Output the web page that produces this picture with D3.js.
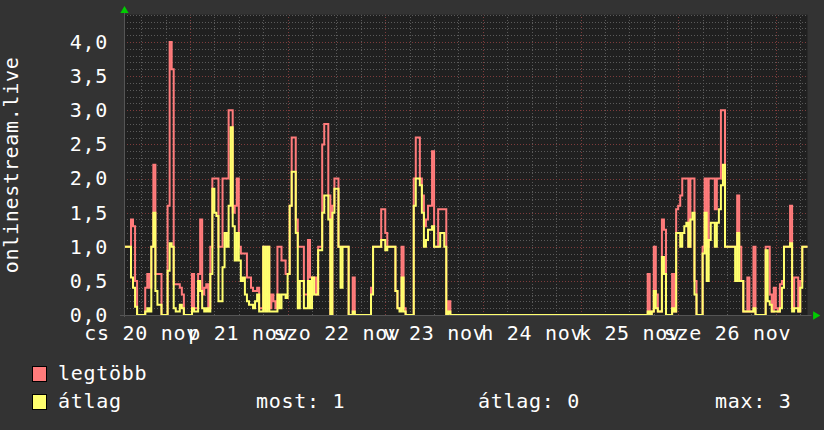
<!DOCTYPE html>
<html>
<head>
<meta charset="utf-8">
<title>onlinestream.live</title>
<script src="https://cdnjs.cloudflare.com/ajax/libs/d3/7.8.5/d3.min.js"></script>
<style>
body { margin: 0; background: #333333; }
svg { display: block; }
text { font-family: "DejaVu Sans Mono", monospace; font-size: 20px; fill: #ffffff; letter-spacing: 0.7px; }
</style>
</head>
<body>
<svg id="chart"></svg>
<script>
// half-hour samples starting 2025-11-20 07:30
var legtobb = [
  1.0,1.0,1.0,1.0,1.4,1.3,0.5,0,0,0,0,0.4,
  0.6,0.4,1.0,2.2,0.6,0.6,0.6,0,0,0,1.6,4.0,
  3.6,0.45,0.45,0.45,0.4,0.3,0,0,0,0,0.6,0.1,
  0.1,0.6,1.4,0.3,0.4,0.45,0.1,1.0,2.0,2.0,2.0,1.0,
  1.0,2.0,2.0,2.0,3.0,3.0,1.5,1.6,2.0,1.0,0.9,0.9,
  0.9,0.55,0.55,0.4,0.35,0.35,0.4,0.1,0.1,1.0,0.1,1.0,
  0.1,0.3,0.2,0.1,1.0,1.0,0.8,0.8,0.6,0.6,1.6,2.6,
  2.6,1.4,1.0,1.0,1.0,0.3,0.3,1.1,0.55,0.55,0.55,0.3,
  1.0,1.0,2.5,2.8,2.8,1.75,0,1.6,2.0,2.0,1.0,1.0,
  1.0,1.0,1.0,0,0,0.55,0,0,0,0,0,0,
  0,0,0.4,1.0,1.0,1.0,1.0,1.55,1.55,1.2,1.0,1.0,
  1.0,1.0,0.35,0.1,0.1,1.0,0.1,0,0,0,0,2.0,
  2.6,2.6,2.0,1.75,1.3,1.4,1.6,1.6,2.4,1.0,1.0,1.55,
  1.55,1.55,1.55,0,0.2,0,0,0,0,0,0,0,
  0,0,0,0,0,0,0,0,0,0,0,0,
  0,0,0,0,0,0,0,0,0,0,0,0,
  0,0,0,0,0,0,0,0,0,0,0,0,
  0,0,0,0,0,0,0,0,0,0,0,0,
  0,0,0,0,0,0,0,0,0,0,0,0,
  0,0,0,0,0,0,0,0,0,0,0,0,
  0,0,0,0,0,0,0,0,0,0,0,0,
  0,0,0,0,0,0,0.6,0,0.05,1.0,0.3,0.05,
  0.05,1.4,1.25,0,0,0,0.6,0.05,1.55,1.6,1.75,2.0,
  2.0,2.0,1.0,2.0,2.0,0.5,0,0,0,1.0,2.0,1.0,
  2.0,2.0,2.0,1.55,2.0,2.0,3.0,3.0,1.0,1.0,1.0,1.0,
  1.0,1.0,1.75,1.0,0.5,0.05,0.05,0.55,0.05,0.05,1.0,0,
  0,0,0,0,1.0,1.0,0.3,0.05,0.4,0.1,0.05,0.45,
  0.5,1.0,1.0,1.0,1.6,0.1,0.55,0.55,0.05,0.5,1.0,1.0,
  1.0
];
var atlag = [
  1.0,1.0,1.0,1.0,0.55,0.4,0.12,0,0,0,0,0.05,
  0.1,0.05,1.0,1.5,0.35,0.15,0.15,0,0,0,0.65,1.05,
  1.0,0.1,0.05,0.05,0.15,0.1,0,0,0,0,0.1,0.05,
  0.05,0.5,0.35,0.1,0.05,0.1,0.05,0.6,1.85,1.5,1.45,0.2,
  0.2,0.7,1.2,1.0,1.6,2.75,1.3,0.8,1.2,0.8,0.5,0.55,
  0.3,0.2,0.15,0.15,0.1,0.2,0.3,0.05,0.05,1.0,0.05,1.0,
  0.05,0.05,0.05,0.05,0.3,0.1,0.3,0.3,0.25,0.6,1.6,2.1,
  2.1,1.2,0.1,0.5,0.5,0.1,0.1,0.5,0.1,0.55,0.3,0.3,
  0.95,0.95,1.5,1.75,1.75,1.4,0,1.5,1.85,1.85,1.0,0.4,
  1.0,1.0,1.0,0,0,0.05,0,0,0,0,0,0,
  0,0,0.3,1.0,1.0,1.0,1.0,1.1,1.1,0.95,1.0,1.0,
  1.0,1.0,0.35,0.1,0.05,0.55,0.05,0,0,0,0,1.6,
  2.0,2.0,1.9,1.5,1.0,1.1,1.25,1.25,1.3,1.0,1.0,1.0,
  1.2,1.2,1.0,0,0.05,0,0,0,0,0,0,0,
  0,0,0,0,0,0,0,0,0,0,0,0,
  0,0,0,0,0,0,0,0,0,0,0,0,
  0,0,0,0,0,0,0,0,0,0,0,0,
  0,0,0,0,0,0,0,0,0,0,0,0,
  0,0,0,0,0,0,0,0,0,0,0,0,
  0,0,0,0,0,0,0,0,0,0,0,0,
  0,0,0,0,0,0,0,0,0,0,0,0,
  0,0,0,0,0,0,0.05,0,0.05,0.35,0.1,0.05,
  0.05,0.85,0.6,0,0,0,0.1,0.05,1.2,1.2,1.0,1.2,
  1.3,1.35,1.0,1.4,1.5,0.3,0,0,0,0.9,1.5,0.5,
  1.1,1.35,1.35,1.0,1.35,1.55,1.9,2.2,1.0,1.0,1.0,1.0,
  1.0,0.5,1.2,0.5,0.5,0.05,0.05,0.05,0.05,0.05,0.1,0,
  0,0,0,0,0.95,0.2,0.15,0.05,0.05,0.05,0.05,0.1,
  0.4,1.0,1.0,1.0,1.05,0.05,0.1,0.1,0.05,0.4,1.0,1.0,
  1.0
];
var dayLabels = ["cs 20 nov", "p 21 nov", "szo 22 nov", "v 23 nov", "h 24 nov", "k 25 nov", "sze 26 nov"];
var yTicks = [0, 0.5, 1.0, 1.5, 2.0, 2.5, 3.0, 3.5, 4.0];
var seriesNames = ["legtöbb", "átlag"];
var seriesColors = ["#ff7b7b", "#ffff6e"];
var statLabels = ["most: 1", "átlag: 0", "max: 3"];
var axisTitle = "onlinestream.live";

var width = 824, height = 430;
var margin = {top: 14.7, right: 16.5, bottom: 115, left: 124};

var start = new Date(2025, 10, 20, 7, 47);
var end = new Date(2025, 10, 27, 7, 47);
var t0 = new Date(2025, 10, 20, 7, 30);

var x = d3.scaleTime()
  .domain([start, end])
  .range([margin.left, width - margin.right]);

var y = d3.scaleLinear()
  .domain([0, 4.4])
  .range([height - margin.bottom, margin.top]);

var svg = d3.select("#chart")
  .attr("width", width)
  .attr("height", height);

svg.append("rect")
  .attr("width", width)
  .attr("height", height)
  .attr("fill", "#333333");

svg.append("rect")
  .attr("x", x.range()[0])
  .attr("y", y.range()[1])
  .attr("width", x.range()[1] - x.range()[0])
  .attr("height", y.range()[0] - y.range()[1])
  .attr("fill", "#202020");

svg.append("clipPath").attr("id", "plot")
  .append("rect")
  .attr("x", x.range()[0])
  .attr("y", y.range()[1] - 2)
  .attr("width", x.range()[1] - x.range()[0])
  .attr("height", y.range()[0] - y.range()[1] + 2);

// grid
var grid = svg.append("g").attr("fill", "none").attr("stroke-width", 1);

var minorY = d3.range(1, 45).map(function(i) { return i / 10; })
  .filter(function(v, i) { return (i + 1) % 5 !== 0; });
grid.selectAll(".ymin").data(minorY).enter().append("line")
  .attr("x1", x.range()[0]).attr("x2", x.range()[1])
  .attr("y1", function(d) { return Math.round(y(d)) + 0.5; })
  .attr("y2", function(d) { return Math.round(y(d)) + 0.5; })
  .attr("stroke", "#5a5a5a")
  .attr("stroke-dasharray", "1,2");

var hours = d3.timeHour.every(6).range(start, end).filter(function(d) { return d.getHours() !== 0; });
grid.selectAll(".xmin").data(hours).enter().append("line")
  .attr("x1", function(d) { return Math.round(x(d)) + 0.5; })
  .attr("x2", function(d) { return Math.round(x(d)) + 0.5; })
  .attr("y1", y.range()[0]).attr("y2", y.range()[1])
  .attr("stroke", "#5a5a5a")
  .attr("stroke-dasharray", "1,2");

grid.selectAll(".ymaj").data(yTicks.slice(1)).enter().append("line")
  .attr("x1", x.range()[0]).attr("x2", x.range()[1])
  .attr("y1", function(d) { return Math.round(y(d)) + 0.5; })
  .attr("y2", function(d) { return Math.round(y(d)) + 0.5; })
  .attr("stroke", "#7e3c3c")
  .attr("stroke-dasharray", "1,2");

var days = d3.timeDay.range(start, end);
grid.selectAll(".xmaj").data(days).enter().append("line")
  .attr("x1", function(d) { return Math.round(x(d)) + 0.5; })
  .attr("x2", function(d) { return Math.round(x(d)) + 0.5; })
  .attr("y1", y.range()[0]).attr("y2", y.range()[1])
  .attr("stroke", "#7e3c3c")
  .attr("stroke-dasharray", "1,2");

// data
function toPoints(values) {
  var pts = values.map(function(v, i) {
    return {t: d3.timeMinute.offset(t0, 30 * i), v: v};
  });
  pts.push({t: d3.timeMinute.offset(t0, 30 * values.length), v: values[values.length - 1]});
  return pts;
}

var line = d3.line()
  .x(function(d) { return x(d.t); })
  .y(function(d) { return y(d.v); })
  .curve(d3.curveStepAfter);

[legtobb, atlag].forEach(function(values, i) {
  svg.append("path")
    .attr("clip-path", "url(#plot)")
    .attr("d", line(toPoints(values)))
    .attr("fill", "none")
    .attr("stroke", seriesColors[i])
    .attr("stroke-width", 2)
    .attr("stroke-linejoin", "miter");
});

// axes lines
svg.append("line")
  .attr("x1", x.range()[0] - 4).attr("x2", x.range()[1] + 4)
  .attr("y1", y(0) + 0.5).attr("y2", y(0) + 0.5)
  .attr("stroke", "#555555");
svg.append("line")
  .attr("x1", x.range()[0] + 0.5).attr("x2", x.range()[0] + 0.5)
  .attr("y1", y(0) + 2).attr("y2", y.range()[1] - 4)
  .attr("stroke", "#555555");

svg.append("path")
  .attr("d", d3.symbol(d3.symbolTriangle, 30)())
  .attr("transform", "translate(" + (x.range()[0] + 0.5) + "," + (y.range()[1] - 4) + ")")
  .attr("fill", "#00cc00");
svg.append("path")
  .attr("d", d3.symbol(d3.symbolTriangle, 30)())
  .attr("transform", "translate(" + (x.range()[1] + 8) + "," + (y(0) + 0.5) + ") rotate(90)")
  .attr("fill", "#00cc00");

// y axis labels
var yAxis = svg.append("g")
  .attr("transform", "translate(" + x.range()[0] + ",0)")
  .call(d3.axisLeft(y)
    .tickValues(yTicks)
    .tickSize(0)
    .tickPadding(16)
    .tickFormat(function(d) { return d3.format(".1f")(d).replace(".", ","); }));
yAxis.select(".domain").remove();
yAxis.selectAll("text").attr("fill", "#ffffff").style("font-size", "20px");

// x axis labels, centred at noon of each day
var noons = days.map(function(d) { return d3.timeHour.offset(d, -12); })
  .concat([d3.timeHour.offset(days[days.length - 1], 12)]);
var xAxis = svg.append("g")
  .attr("transform", "translate(0," + y(0) + ")")
  .call(d3.axisBottom(x)
    .tickValues(noons)
    .tickSize(0)
    .tickPadding(11)
    .tickFormat(function(d, i) { return dayLabels[i]; }));
xAxis.select(".domain").remove();
xAxis.selectAll("text").attr("fill", "#ffffff").style("font-size", "20px");

// vertical title
svg.append("text")
  .attr("transform", "translate(17.5," + ((y.range()[0] + y.range()[1]) / 2) + ") rotate(-90)")
  .attr("text-anchor", "middle")
  .text(axisTitle);

// legend
var legend = svg.append("g");
seriesNames.forEach(function(name, i) {
  legend.append("rect")
    .attr("x", 32.5).attr("y", 366.5 + i * 28)
    .attr("width", 14).attr("height", 15)
    .attr("fill", seriesColors[i])
    .attr("stroke", "#000000");
  legend.append("text")
    .attr("x", 58).attr("y", 380 + i * 28)
    .text(name);
});
var statX = [256, 478, 715];
statLabels.forEach(function(s, i) {
  legend.append("text")
    .attr("x", statX[i]).attr("y", 408)
    .text(s);
});
</script>
</body>
</html>
